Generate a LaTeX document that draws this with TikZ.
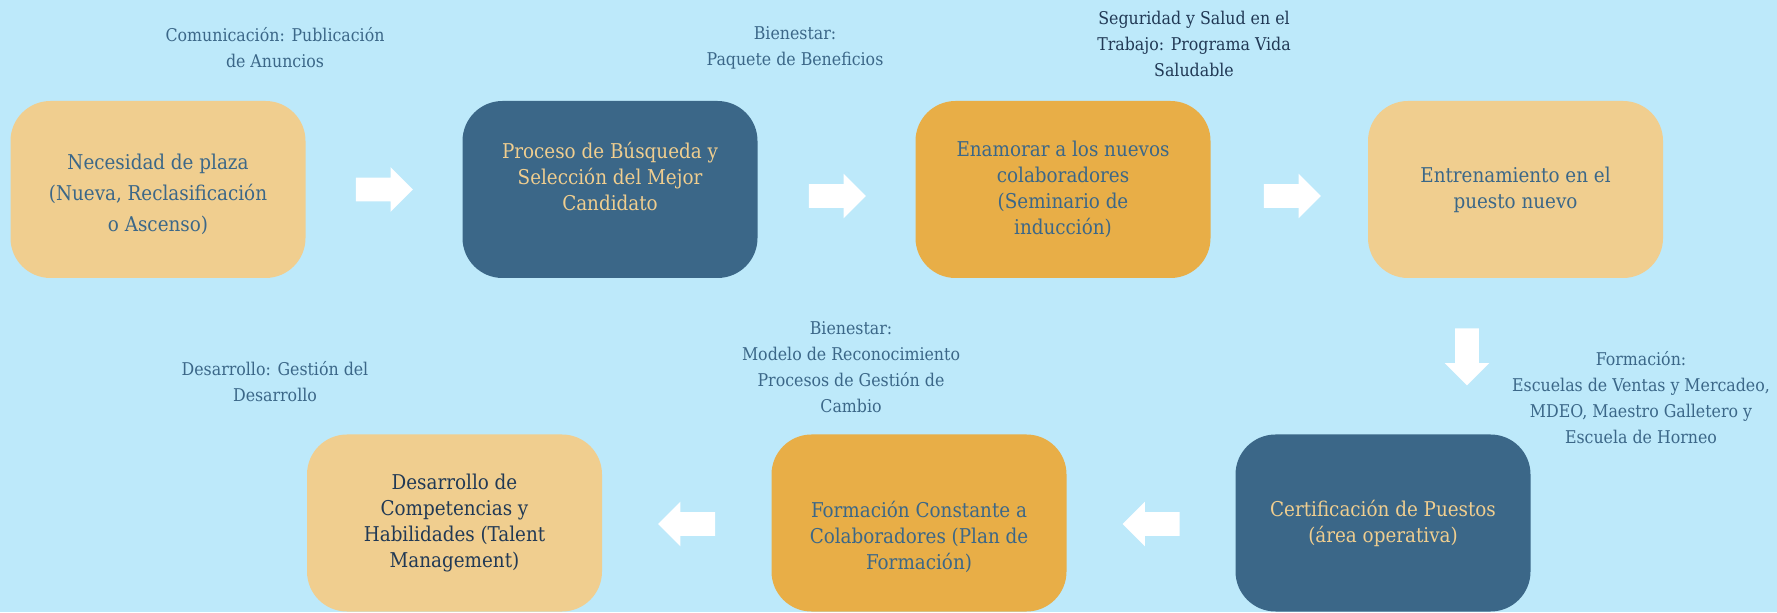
\documentclass[tikz,border=0pt]{standalone}
\usepackage{fontspec}
\setmainfont{DejaVu Serif Condensed}
\usetikzlibrary{shapes.arrows}

\definecolor{cielo}{RGB}{189,233,250}
\definecolor{arena}{RGB}{240,206,143}
\definecolor{marino}{RGB}{59,103,136}
\definecolor{ambar}{RGB}{232,174,71}
\definecolor{noche}{RGB}{33,57,85}

\begin{document}
\begin{tikzpicture}[
    paso/.style={rounded corners=0.8cm, minimum width=5.9cm, minimum height=3.54cm,
      align=center, font=\fontsize{11.6}{14.8}\selectfont},
    claro/.style={paso, fill=arena, text=marino},
    oscuro/.style={paso, fill=marino, text=arena},
    dorado/.style={paso, fill=ambar, text=marino},
    nota/.style={align=center, text=marino, font=\fontsize{10}{14.8}\selectfont},
    flecha/.style={single arrow, fill=white, inner xsep=0pt, inner ysep=0.23cm,
      minimum height=1.14cm, minimum width=0.88cm, single arrow head extend=0.21cm}]
  %fondo
    \useasboundingbox (0,0) rectangle (35.54,12.24);
    \fill[cielo] (0,0) rectangle (35.54,12.24);

%Pasos
    \node[claro, font=\fontsize{11.6}{17.6}\selectfont] (A) at (3.16,8.45) {\mbox{}\\[-0.2\baselineskip]Necesidad de plaza\\(Nueva, Reclasificación\\o Ascenso)};
    \node[oscuro] (B) at (12.2,8.45) {Proceso de Búsqueda y\\Selección del Mejor\\Candidato\\~};
    \node[dorado] (C) at (21.26,8.45) {Enamorar a los nuevos\\colaboradores\\(Seminario de\\inducción)};
    \node[claro] (D) at (30.31,8.45) {Entrenamiento en el\\puesto nuevo};
    \node[oscuro] (E) at (27.66,1.78) {Certificación de Puestos\\(área operativa)};
    \node[dorado] (F) at (18.38,1.78) {\strut\\Formación Constante a\\Colaboradores (Plan de\\Formación)};
    \node[claro, text=noche] (G) at (9.09,1.78) {Desarrollo de\\Competencias y\\Habilidades (Talent\\Management)};

%Flechas
    \node[flecha] (a1) at (7.57,8.45) {};
    \node[flecha] (a2) at (16.63,8.32) {};
    \node[flecha] (a3) at (25.73,8.32) {};
    \node[flecha, rotate=-90] (a4) at (29.34,5.22) {};
    \node[flecha, rotate=180] (a5) at (23.14,1.76) {};
    \node[flecha, rotate=180] (a6) at (13.85,1.76) {};

% Notas
    \node[nota] (k1) at (5.5,11.28) {Comunicación: Publicación\\de Anuncios};
    \node[nota] (k2) at (15.9,11.28) {Bienestar:\\Paquete de Beneficios};
    \node[nota, text=noche] (k3) at (23.88,11.36) {Seguridad y Salud en el\\Trabajo: Programa Vida\\Saludable};
    \node[nota] (k4) at (5.5,4.6) {Desarrollo: Gestión del\\Desarrollo};
    \node[nota] (k5) at (17.02,4.9) {Bienestar:\\Modelo de Reconocimiento\\Procesos de Gestión de\\Cambio};
    \node[nota] (k6) at (32.82,4.28) {Formación:\\Escuelas de Ventas y Mercadeo,\\MDEO, Maestro Galletero y\\Escuela de Horneo};

\end{tikzpicture}
\end{document}
